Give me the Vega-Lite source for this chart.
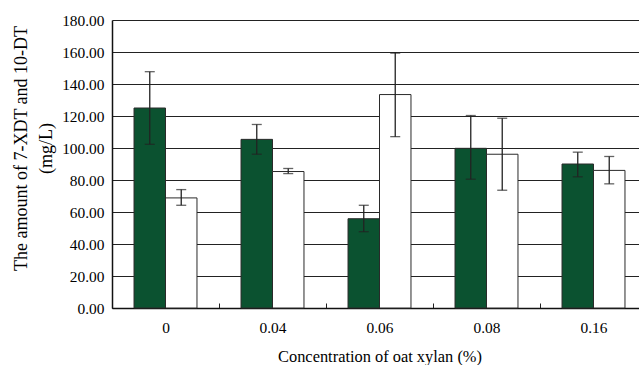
{
  "$schema": "https://vega.github.io/schema/vega-lite/v6.json",
  "width": 535,
  "height": 288,
  "autosize": {"type": "none"},
  "padding": {"left": 112, "top": 20, "right": 0, "bottom": 57},
  "background": "white",
  "config": {
    "font": "Liberation Serif",
    "view": {"stroke": null},
    "axisY": {
      "titleFontSize": 18,
      "titleFontWeight": "normal",
      "titleColor": "black",
      "titleLineHeight": 25,
      "titleX": -82,
      "titleY": 128,
      "labelFontSize": 15.4,
      "labelColor": "black",
      "labelPadding": 8,
      "labelOverlap": false,
      "labelBound": false,
      "ticks": false,
      "grid": true,
      "gridColor": "#222",
      "gridWidth": 1.2,
      "gridOpacity": 1,
      "domainColor": "#111",
      "domainWidth": 1.5
    }
  },
  "data": {
    "values": [
      {"conc": "0", "compound": "7-XDT", "amount": 125.0, "lo": 102.3, "hi": 147.7},
      {"conc": "0", "compound": "10-DT", "amount": 68.8, "lo": 64.2, "hi": 74.0},
      {"conc": "0.04", "compound": "7-XDT", "amount": 105.4, "lo": 96.1, "hi": 114.7},
      {"conc": "0.04", "compound": "10-DT", "amount": 85.3, "lo": 84.0, "hi": 87.2},
      {"conc": "0.06", "compound": "7-XDT", "amount": 55.8, "lo": 47.7, "hi": 64.2},
      {"conc": "0.06", "compound": "10-DT", "amount": 133.4, "lo": 107.1, "hi": 159.3},
      {"conc": "0.08", "compound": "7-XDT", "amount": 99.8, "lo": 80.5, "hi": 120.3},
      {"conc": "0.08", "compound": "10-DT", "amount": 96.1, "lo": 73.6, "hi": 118.6},
      {"conc": "0.16", "compound": "7-XDT", "amount": 90.0, "lo": 82.0, "hi": 97.4},
      {"conc": "0.16", "compound": "10-DT", "amount": 86.0, "lo": 77.6, "hi": 94.7}
    ]
  },
  "encoding": {
    "x": {
      "field": "conc",
      "type": "nominal",
      "sort": null,
      "scale": {"paddingInner": 0, "paddingOuter": 0},
      "axis": {
        "title": "Concentration of oat xylan (%)",
        "titleFontSize": 16.4,
        "titleFontWeight": "normal",
        "titleColor": "black",
        "titlePadding": 13,
        "labelAngle": 0,
        "labelFontSize": 15.4,
        "labelColor": "black",
        "labelPadding": 17,
        "tickBand": "extent",
        "tickSize": -5,
        "tickColor": "#222",
        "domainColor": "#111",
        "domainWidth": 1.5,
        "grid": false
      }
    },
    "xOffset": {
      "field": "compound",
      "type": "nominal",
      "sort": ["7-XDT", "10-DT"],
      "scale": {"paddingInner": 0, "paddingOuter": 0.7}
    }
  },
  "layer": [
    {
      "mark": {"type": "bar", "stroke": "#2a2a2a", "strokeWidth": 1},
      "encoding": {
        "y": {
          "field": "amount",
          "type": "quantitative",
          "scale": {"domain": [0, 180], "nice": false},
          "axis": {
            "title": ["The amount of 7-XDT and 10-DT", "(mg/L)"],
            "values": [0, 20, 40, 60, 80, 100, 120, 140, 160, 180],
            "format": ".2f"
          }
        },
        "fill": {
          "field": "compound",
          "type": "nominal",
          "scale": {"domain": ["7-XDT", "10-DT"], "range": ["#0b5230", "#ffffff"]},
          "legend": null
        }
      }
    },
    {
      "mark": {"type": "rule", "color": "#222", "strokeWidth": 1.3},
      "encoding": {
        "y": {
          "field": "lo",
          "type": "quantitative",
          "axis": {
            "title": ["The amount of 7-XDT and 10-DT", "(mg/L)"],
            "values": [0, 20, 40, 60, 80, 100, 120, 140, 160, 180],
            "format": ".2f"
          }
        },
        "y2": {"field": "hi"}
      }
    },
    {
      "mark": {"type": "tick", "color": "#222", "thickness": 1.3, "size": 10},
      "encoding": {
        "y": {
          "field": "lo",
          "type": "quantitative",
          "axis": {
            "title": ["The amount of 7-XDT and 10-DT", "(mg/L)"],
            "values": [0, 20, 40, 60, 80, 100, 120, 140, 160, 180],
            "format": ".2f"
          }
        }
      }
    },
    {
      "mark": {"type": "tick", "color": "#222", "thickness": 1.3, "size": 10},
      "encoding": {
        "y": {
          "field": "hi",
          "type": "quantitative",
          "axis": {
            "title": ["The amount of 7-XDT and 10-DT", "(mg/L)"],
            "values": [0, 20, 40, 60, 80, 100, 120, 140, 160, 180],
            "format": ".2f"
          }
        }
      }
    }
  ]
}
